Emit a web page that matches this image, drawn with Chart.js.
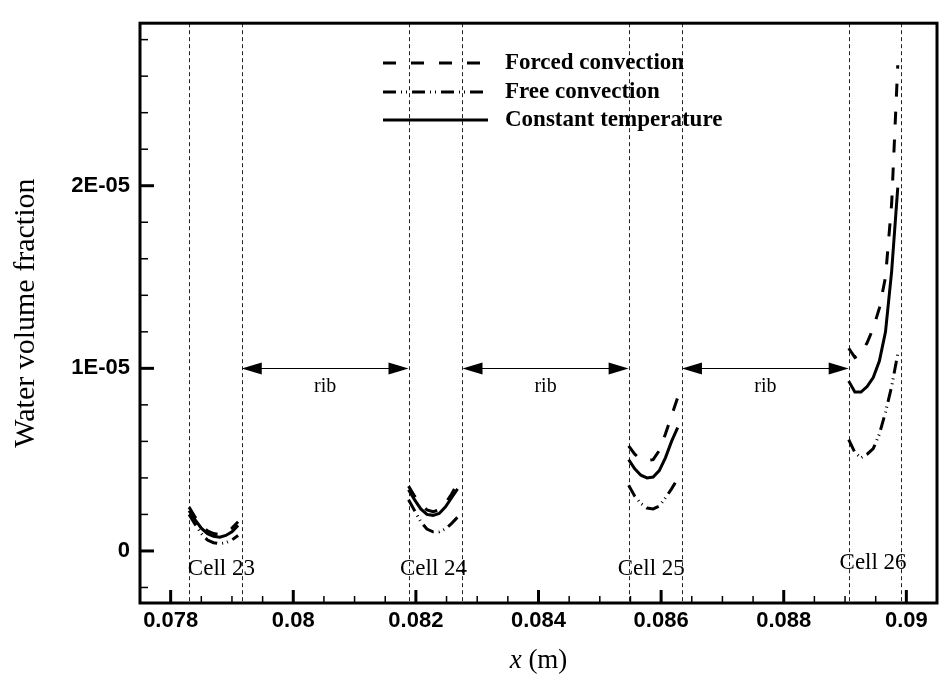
<!DOCTYPE html>
<html>
<head>
<meta charset="utf-8">
<script src="https://cdn.jsdelivr.net/npm/chart.js@4.4.1/dist/chart.umd.min.js"></script>
<style>
  html, body { margin: 0; padding: 0; background: #fff; }
  #wrap { width: 939px; height: 682px; }
</style>
</head>
<body>
<div id="wrap"><canvas id="chart" width="939" height="682"></canvas></div>
<script>
// Datos (valores de y en unidades de 1E-06)
const unit = 1e-6;
const cellNames = ['Cell 23', 'Cell 24', 'Cell 25', 'Cell 26'];
const cellLeft = [0.0783, 0.08188, 0.08547, 0.08906];
const cellRight = [0.07916, 0.08276, 0.08634, 0.08992];
const xOffsets = [0, 0.0001, 0.0002, 0.0003, 0.0004, 0.0005, 0.0006, 0.0007, 0.0008];

const forced = [
  [2.4, 1.85, 1.4, 1.1, 0.95, 0.9, 1.0, 1.25, 1.6],
  [3.55, 3.0, 2.55, 2.25, 2.15, 2.25, 2.6, 3.1, 3.7],
  [5.75, 5.3, 5.0, 4.95, 5.0, 5.5, 6.4, 7.4, 8.4],
  [11.1, 10.6, 10.8, 11.4, 12.2, 13.3, 15.0, 19.0, 26.6]
];
const free = [
  [2.0, 1.45, 0.95, 0.6, 0.45, 0.4, 0.45, 0.6, 0.85],
  [2.8, 2.2, 1.6, 1.2, 1.05, 1.05, 1.2, 1.5, 1.85],
  [3.6, 3.0, 2.6, 2.35, 2.3, 2.45, 2.9, 3.4, 3.95],
  [6.1, 5.4, 5.1, 5.3, 5.6, 6.4, 7.6, 9.0, 10.8]
];
const constTemp = [
  [2.2, 1.7, 1.25, 0.95, 0.8, 0.75, 0.85, 1.05, 1.4],
  [3.35, 2.8, 2.3, 2.0, 1.95, 2.05, 2.4, 2.9, 3.4],
  [5.0, 4.5, 4.15, 4.0, 4.05, 4.4, 5.1, 6.0, 6.75],
  [9.3, 8.7, 8.7, 9.0, 9.5, 10.4, 12.0, 15.3, 19.9]
];

const ribLevel = 1e-5;
const xMin = 0.0775, xMax = 0.0905;
const yMin = -2.85e-6, yMax = 2.89e-5;
const xTicks = [0.078, 0.08, 0.082, 0.084, 0.086, 0.088, 0.09];
const xTickLabels = ['0.078', '0.08', '0.082', '0.084', '0.086', '0.088', '0.09'];
const yTicks = [0, 1e-5, 2e-5];
const yTickLabels = ['0', '1E-05', '2E-05'];

// une las celdas con huecos (y null) entre ellas
function buildPoints(series) {
  const pts = [];
  series.forEach((vals, c) => {
    vals.forEach((v, i) => pts.push({ x: cellLeft[c] + xOffsets[i], y: v * unit }));
    pts.push({ x: cellRight[c], y: null });
  });
  return pts;
}

const serif = '"Liberation Serif", "Times New Roman", serif';

function arrowHead(ctx, x, y, dir) {
  ctx.beginPath();
  ctx.moveTo(x, y);
  ctx.lineTo(x - dir * 20, y - 6);
  ctx.lineTo(x - dir * 20, y + 6);
  ctx.closePath();
  ctx.fill();
}

const decor = {
  id: 'decor',
  beforeDatasetsDraw(chart) {
    const { ctx, chartArea: a, scales: { x, y } } = chart;
    ctx.save();
    // lineas de las celdas
    ctx.strokeStyle = '#222';
    ctx.lineWidth = 1;
    ctx.setLineDash([4, 3]);
    cellLeft.concat(cellRight).forEach(v => {
      const px = Math.round(x.getPixelForValue(v)) + 0.5;
      ctx.beginPath();
      ctx.moveTo(px, a.top);
      ctx.lineTo(px, a.bottom);
      ctx.stroke();
    });
    ctx.setLineDash([]);
    // flechas "rib"
    const ay = Math.round(y.getPixelForValue(ribLevel)) + 0.5;
    ctx.fillStyle = '#000';
    ctx.strokeStyle = '#000';
    for (let i = 0; i < cellLeft.length - 1; i++) {
      const x0 = x.getPixelForValue(cellRight[i]);
      const x1 = x.getPixelForValue(cellLeft[i + 1]);
      ctx.beginPath();
      ctx.moveTo(x0 + 10, ay);
      ctx.lineTo(x1 - 10, ay);
      ctx.stroke();
      arrowHead(ctx, x0, ay, -1);
      arrowHead(ctx, x1, ay, 1);
      ctx.font = '20px ' + serif;
      ctx.textAlign = 'center';
      ctx.textBaseline = 'middle';
      ctx.fillText('rib', (x0 + x1) / 2, ay + 18);
    }
    // etiquetas de celda (un poco desplazadas como en el original)
    const shift = [6, -2, -4, -2];
    ctx.font = '23px ' + serif;
    ctx.textAlign = 'center';
    ctx.textBaseline = 'middle';
    cellNames.forEach((n, c) => {
      const cx = (x.getPixelForValue(cellLeft[c]) + x.getPixelForValue(cellRight[c])) / 2;
      ctx.fillText(n, cx + shift[c], c === 3 ? 563 : 569);
    });
    ctx.restore();
  },
  afterDraw(chart) {
    const { ctx, chartArea: a, scales: { x, y } } = chart;
    ctx.save();
    ctx.strokeStyle = '#000';
    ctx.setLineDash([]);
    // marco
    ctx.lineWidth = 3;
    ctx.strokeRect(a.left, a.top, a.right - a.left, a.bottom - a.top);
    // ticks hacia dentro
    const tick = (x0, y0, x1, y1, w) => {
      ctx.lineWidth = w;
      ctx.beginPath();
      ctx.moveTo(x0, y0);
      ctx.lineTo(x1, y1);
      ctx.stroke();
    };
    for (let v = 0.078; v < xMax; v += 0.0005) {
      const px = x.getPixelForValue(v);
      const major = xTicks.some(t => Math.abs(t - v) < 1e-7);
      tick(px, a.bottom, px, a.bottom - (major ? 13 : 7), major ? 3 : 1.5);
    }
    for (let k = -1; k <= 14; k++) {
      const v = k * 2e-6;
      const py = y.getPixelForValue(v);
      const major = k % 5 === 0;
      tick(a.left, py, a.left + (major ? 14 : 8), py, major ? 3 : 1.5);
    }
    // leyenda
    const items = chart.data.datasets;
    const rows = [63, 92, 120];
    items.forEach((ds, i) => {
      ctx.lineWidth = ds.borderWidth;
      ctx.setLineDash(ds.borderDash || []);
      ctx.beginPath();
      ctx.moveTo(383, rows[i]);
      ctx.lineTo(488, rows[i]);
      ctx.stroke();
      ctx.setLineDash([]);
      ctx.fillStyle = '#000';
      ctx.font = 'bold 23px ' + serif;
      ctx.textAlign = 'left';
      ctx.textBaseline = 'middle';
      ctx.fillText(ds.label, 505, rows[i]);
    });
    // titulos de ejes
    ctx.font = '30px ' + serif;
    ctx.textAlign = 'center';
    ctx.textBaseline = 'middle';
    ctx.save();
    ctx.translate(26, (a.top + a.bottom) / 2);
    ctx.rotate(-Math.PI / 2);
    ctx.fillText('Water volume fraction', 0, 0);
    ctx.restore();
    const cx = (a.left + a.right) / 2;
    ctx.font = 'italic 27px ' + serif;
    const w1 = ctx.measureText('x').width;
    ctx.font = '27px ' + serif;
    const w2 = ctx.measureText(' (m)').width;
    const sx = cx - (w1 + w2) / 2;
    ctx.textAlign = 'left';
    ctx.font = 'italic 27px ' + serif;
    ctx.fillText('x', sx, 661);
    ctx.font = '27px ' + serif;
    ctx.fillText(' (m)', sx + w1, 661);
    ctx.restore();
  }
};

const tickFont = { family: '"Liberation Sans", Arial, sans-serif', size: 22, weight: 'bold' };

new Chart(document.getElementById('chart'), {
  type: 'line',
  data: {
    datasets: [
      { label: 'Forced convection', data: buildPoints(forced), borderColor: '#000', borderWidth: 3, borderDash: [13, 15], pointRadius: 0, fill: false, tension: 0 },
      { label: 'Free convection', data: buildPoints(free), borderColor: '#000', borderWidth: 3, borderDash: [13, 5, 1, 4, 1, 5], pointRadius: 0, fill: false, tension: 0 },
      { label: 'Constant temperature', data: buildPoints(constTemp), borderColor: '#000', borderWidth: 3, pointRadius: 0, fill: false, tension: 0 }
    ]
  },
  options: {
    responsive: false,
    animation: false,
    devicePixelRatio: 1,
    spanGaps: false,
    layout: { padding: { top: 8, right: 2, left: 0, bottom: 0 } },
    plugins: { legend: { display: false }, tooltip: { enabled: false } },
    scales: {
      x: {
        type: 'linear', min: xMin, max: xMax,
        afterBuildTicks: s => { s.ticks = xTicks.map(v => ({ value: v })); },
        afterFit: s => { s.height = 79; },
        grid: { display: false, drawTicks: false },
        border: { display: false },
        ticks: { autoSkip: false, maxRotation: 0, padding: 5, color: '#000', font: tickFont,
          callback: (v, i) => xTickLabels[i] }
      },
      y: {
        type: 'linear', min: yMin, max: yMax,
        afterBuildTicks: s => { s.ticks = yTicks.map(v => ({ value: v })); },
        afterFit: s => { s.width = 140; },
        grid: { display: false, drawTicks: false },
        border: { display: false },
        ticks: { autoSkip: false, padding: 10, color: '#000', font: tickFont,
          callback: (v, i) => yTickLabels[i] }
      }
    }
  },
  plugins: [decor]
});
</script>
</body>
</html>
